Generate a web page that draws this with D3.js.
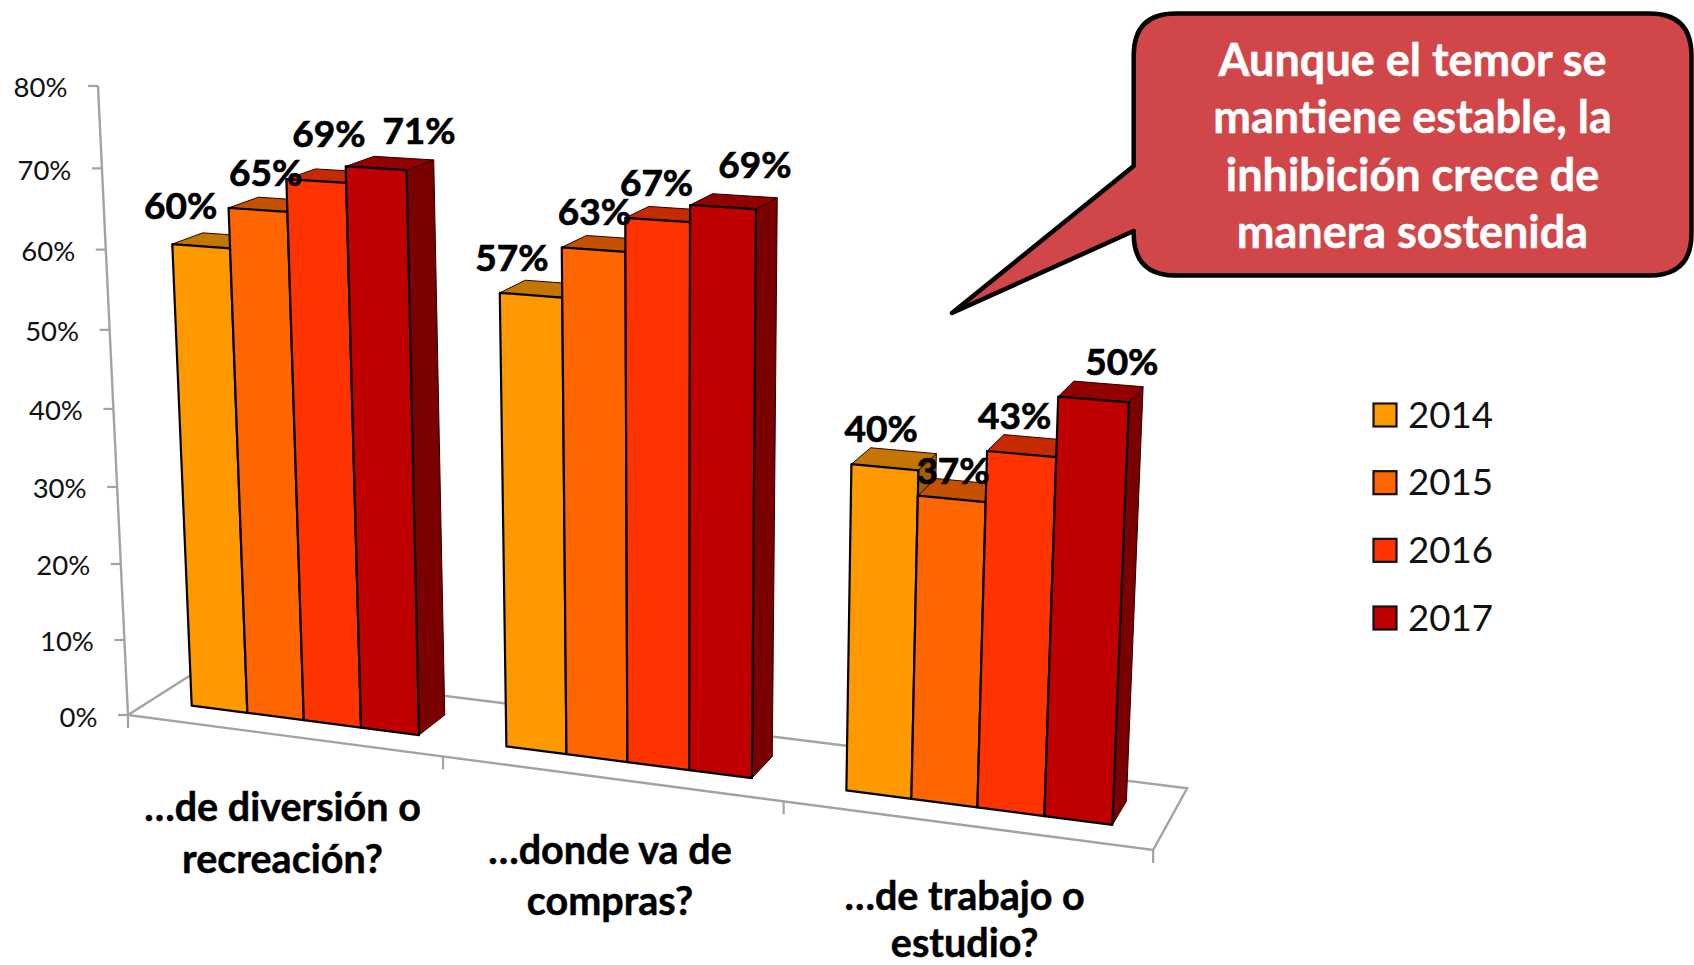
<!DOCTYPE html>
<html lang="es">
<head>
<meta charset="utf-8">
<title>Temor e inhibición</title>
<script src="https://cdn.jsdelivr.net/npm/d3@7"></script>
<style>
html,body{margin:0;padding:0;background:#fff}
svg{display:block}
text{font-family:Lato,"Open Sans",sans-serif}
</style>
</head>
<body>
<svg id="chart" width="1694" height="965" viewBox="0 0 1694 965"></svg>
<script>
// ---------- data ----------
const categories = [["…de diversión o","recreación?"],["…donde va de","compras?"],["…de trabajo o","estudio?"]];
const years = ["2014","2015","2016","2017"];
const values2014 = [60,57,40];
const values2015 = [65,63,37];
const values2016 = [69,67,43];
const values2017 = [71,69,50];
const seriesValues = [values2014,values2015,values2016,values2017];
const yTicks = [0,10,20,30,40,50,60,70,80];
const yTickLabels = ["0%","10%","20%","30%","40%","50%","60%","70%","80%"];
const calloutLines = ["Aunque el temor se","mantiene estable, la","inhibición crece de","manera sostenida"];

// ---------- styles ----------
const frontColors = ["#FF9900","#FF6600","#FF3300","#C00000"];
const topColors   = ["#C47700","#C55000","#C62A00","#930000"];
const sideColors  = ["#9E6000","#A04000","#A02000","#7B0000"];
const labelNudges = [
  [[-20.4,-27],[7.8,-24],[12.7,-34.5],[43,-24.5]],
  [[-19,-24.5],[1,-24.6],[-1,-24],[32,-28.8]],
  [[-3.6,-24.9],[1.4,-14.8],[-6.9,-25.1],[28.4,-24.5]]
];

// ---------- scales & projection ----------
const catIdx = categories.map((_,i)=>i);
const uCat = d3.scaleBand().domain(catIdx).range([0,3]).paddingInner(0.27).paddingOuter(0.135);
const uYear = d3.scaleBand().domain(d3.range(years.length)).range([0,uCat.bandwidth()]);
const vScale = d3.scaleLinear().domain([0,80]).range([0,80]);
const dFront = 0.289, dBack = 0.674;

// perspective camera: model (u category, v value, d depth) -> screen
function project(u,v,d){
  const w = 1 - 0.03756*u - 0.000654*v + 0.0477*d;
  return [(128 + 298.4*u - 0.439*v + 86.8*d)/w,
          (715 + 13.07*u - 7.919*v - 17.22*d)/w];
}
const poly = d3.line().curve(d3.curveLinearClosed);
const svg = d3.select("#chart");
const grey = "#A3A3A3";

// ---------- floor ----------
svg.append("path").attr("d",poly([project(0,0,0),project(3,0,0),project(3,0,1),project(0,0,1)]))
  .attr("fill","none").attr("stroke",grey).attr("stroke-width",2.4);
// category ticks
d3.range(categories.length+1).forEach(i=>{
  const p = project(i,0,0);
  svg.append("line").attr("x1",p[0]).attr("y1",p[1]).attr("x2",p[0]).attr("y2",p[1]+13)
    .attr("stroke",grey).attr("stroke-width",2.2);
});

// ---------- y axis ----------
const a0 = project(0,vScale(0),0), a1 = project(0,vScale(80),0);
svg.append("line").attr("x1",a0[0]).attr("y1",a0[1]).attr("x2",a1[0]).attr("y2",a1[1])
  .attr("stroke",grey).attr("stroke-width",2.4);
yTicks.forEach((t,i)=>{
  const p = project(0,vScale(t),0);
  svg.append("line").attr("x1",p[0]-10).attr("y1",p[1]).attr("x2",p[0]).attr("y2",p[1])
    .attr("stroke",grey).attr("stroke-width",2.2);
  svg.append("text").attr("x",p[0]-30.5).attr("y",p[1]+11.5).attr("text-anchor","end")
    .attr("font-size",27.5).attr("fill","#111").text(yTickLabels[i]);
});

// ---------- bars (painter's order, left to right) ----------
const barsG = svg.append("g");
const labelsG = svg.append("g");
catIdx.forEach(c=>{
  years.forEach((y,s)=>{
    const u0 = uCat(c)+uYear(s), u1 = u0+uYear.bandwidth();
    const v = vScale(seriesValues[s][c]);
    barsG.append("path").attr("d",poly([project(u1,0,dFront),project(u1,v,dFront),project(u1,v,dBack),project(u1,0,dBack)]))
      .attr("fill",sideColors[s]).attr("stroke","#2a0000").attr("stroke-width",1).attr("stroke-linejoin","round");
    barsG.append("path").attr("d",poly([project(u0,v,dFront),project(u1,v,dFront),project(u1,v,dBack),project(u0,v,dBack)]))
      .attr("fill",topColors[s]).attr("stroke","#2a0000").attr("stroke-width",1).attr("stroke-linejoin","round");
    barsG.append("path").attr("d",poly([project(u0,0,dFront),project(u1,0,dFront),project(u1,v,dFront),project(u0,v,dFront)]))
      .attr("fill",frontColors[s]).attr("stroke","#000").attr("stroke-width",2.2).attr("stroke-linejoin","round");
    const p = project((u0+u1)/2,v,dFront), n = labelNudges[c][s];
    labelsG.append("text").attr("x",p[0]+n[0]).attr("y",p[1]+n[1]).attr("text-anchor","middle")
      .attr("font-size",37).attr("font-weight",700).attr("fill","#000")
      .attr("stroke","#000").attr("stroke-width",0.7).text(seriesValues[s][c]+"%");
  });
});
svg.node().appendChild(labelsG.node());

// ---------- category labels ----------
categories.forEach((lines,c)=>{
  const p = project(c+0.5,0,0);
  lines.forEach((t,j)=>{
    svg.append("text").attr("x",p[0]).attr("y",Math.min(p[1]+86+j*51.5-(c*0.5),957)).attr("text-anchor","middle")
      .attr("font-size",39.5).attr("font-weight",700).attr("fill","#000")
      .attr("stroke","#000").attr("stroke-width",0.5).text(t);
  });
});

// ---------- legend ----------
const legendY = d3.scalePoint().domain(years).range([403.5,606.5]);
years.forEach((y,s)=>{
  svg.append("rect").attr("x",1373.5).attr("y",legendY(y)).attr("width",23).attr("height",23)
    .attr("fill",frontColors[s]).attr("stroke","#111").attr("stroke-width",2.2);
  svg.append("text").attr("x",1408).attr("y",legendY(y)+24.2).attr("font-size",36.7).attr("fill","#111").text(y);
});

// ---------- callout ----------
const L=1133.7,T=13.5,R=1691.5,B=275.5,rx=42,ry=42;
const calloutPath = `M${L+rx},${T} H${R-rx} Q${R},${T} ${R},${T+ry} V${B-ry} Q${R},${B} ${R-rx},${B} H${L+rx} Q${L},${B} ${L},${B-ry} V231 L952,313 L${L},166 V${T+ry} Q${L},${T} ${L+rx},${T} Z`;
svg.append("path").attr("d",calloutPath).attr("fill","#D04649").attr("stroke","#000")
  .attr("stroke-width",4.5).attr("stroke-linejoin","round");
calloutLines.forEach((t,i)=>{
  svg.append("text").attr("x",1412.5).attr("y",75.5+i*57.6).attr("text-anchor","middle")
    .attr("font-size",45).attr("font-weight",700).attr("fill","#fff")
    .attr("stroke","#fff").attr("stroke-width",0.5).text(t);
});
</script>
</body>
</html>
